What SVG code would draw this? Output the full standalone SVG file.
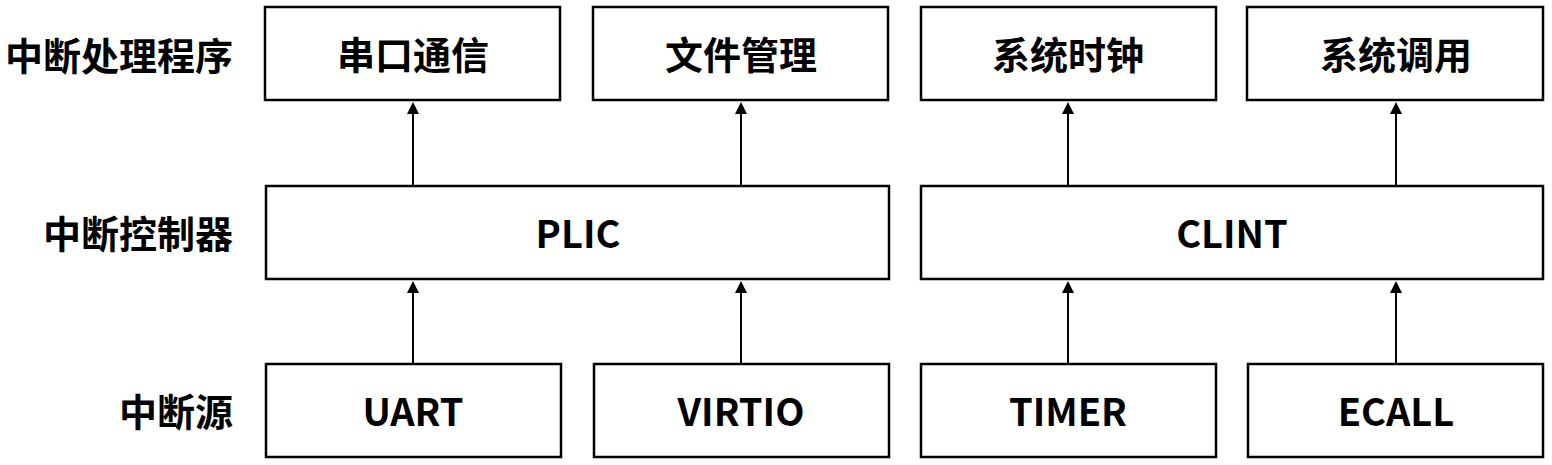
<svg xmlns="http://www.w3.org/2000/svg" width="1552" height="465" viewBox="0 0 1552 465">
<style>
.box{fill:#fff;stroke:#000;stroke-width:2.5}
.t{font-family:"Noto Sans CJK SC","Noto Sans",sans-serif;font-size:38px;font-weight:bold;fill:#000;text-anchor:middle;dominant-baseline:central}
.l{font-family:"Noto Sans CJK SC","Noto Sans",sans-serif;font-size:38px;font-weight:bold;fill:#000;text-anchor:end;dominant-baseline:central}
.c{stroke:#000;stroke-width:2;fill:none}
.h{fill:#000}
</style>
<rect width="1552" height="465" fill="#fff"/>
<g id="labels">
<text class="l" x="233" y="53">中断处理程序</text>
<text class="l" x="233" y="231">中断控制器</text>
<text class="l" x="233" y="409">中断源</text>
</g>
<g id="connectors">
<path class="c" d="M413,364 V285"/>
<path class="c" d="M741,364 V285"/>
<path class="c" d="M1068,364 V285"/>
<path class="c" d="M1396,364 V285"/>
<path class="c" d="M413,186 V106"/>
<path class="c" d="M741,186 V106"/>
<path class="c" d="M1068,186 V106"/>
<path class="c" d="M1396,186 V106"/>
<path class="h" d="M407,293 L413,281 L419,293 Z"/>
<path class="h" d="M735,293 L741,281 L747,293 Z"/>
<path class="h" d="M1062,293 L1068,281 L1074,293 Z"/>
<path class="h" d="M1390,293 L1396,281 L1402,293 Z"/>
<path class="h" d="M407,114 L413,102 L419,114 Z"/>
<path class="h" d="M735,114 L741,102 L747,114 Z"/>
<path class="h" d="M1062,114 L1068,102 L1074,114 Z"/>
<path class="h" d="M1390,114 L1396,102 L1402,114 Z"/>
</g>
<g id="n-serial"><rect class="box" x="265" y="7" width="295" height="93"/><text class="t" x="413" y="52">串口通信</text></g>
<g id="n-file"><rect class="box" x="593" y="7" width="295" height="93"/><text class="t" x="741" y="52">文件管理</text></g>
<g id="n-clock"><rect class="box" x="921" y="7" width="295" height="93"/><text class="t" x="1068" y="52">系统时钟</text></g>
<g id="n-syscall"><rect class="box" x="1247" y="7" width="296" height="93"/><text class="t" x="1396" y="52">系统调用</text></g>
<g id="n-plic"><rect class="box" x="266" y="186" width="623" height="93"/><text class="t" x="578" y="231">PLIC</text></g>
<g id="n-clint"><rect class="box" x="921" y="186" width="622" height="93"/><text class="t" x="1232" y="231">CLINT</text></g>
<g id="n-uart"><rect class="box" x="266" y="364" width="295" height="93"/><text class="t" x="413" y="409">UART</text></g>
<g id="n-virtio"><rect class="box" x="594" y="364" width="295" height="93"/><text class="t" x="741" y="409">VIRTIO</text></g>
<g id="n-timer"><rect class="box" x="921" y="364" width="295" height="93"/><text class="t" x="1068" y="409">TIMER</text></g>
<g id="n-ecall"><rect class="box" x="1248" y="364" width="295" height="93"/><text class="t" x="1396" y="409">ECALL</text></g>
</svg>
